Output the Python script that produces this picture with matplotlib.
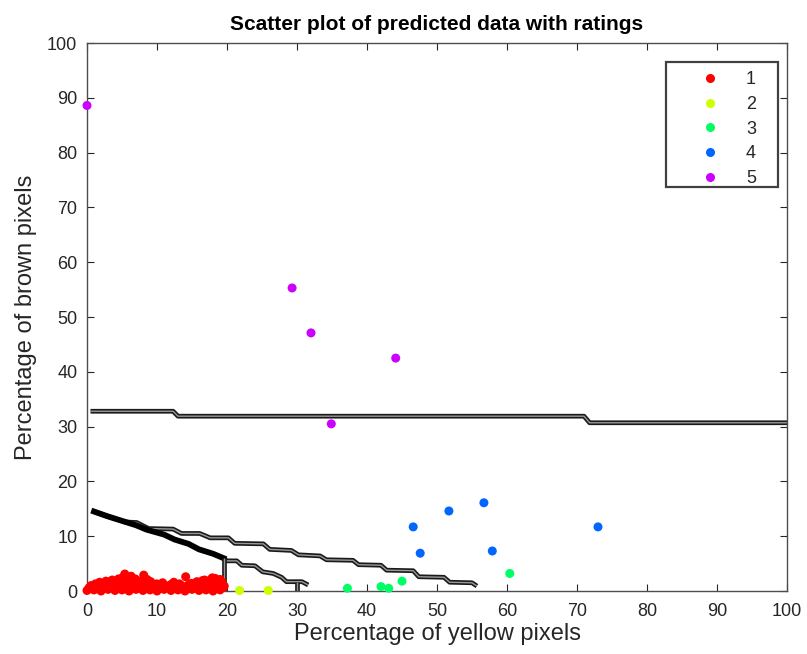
"""
Scatter of predicted ratings with decision boundary contours.
"""
import matplotlib
matplotlib.use("Agg")
import matplotlib.pyplot as plt
from matplotlib.lines import Line2D
from matplotlib.patches import Rectangle

plt.rcParams["font.family"] = ["Liberation Sans", "DejaVu Sans"]

# ---- data -----------------------------------------------------------------
rating_labels = ["1", "2", "3", "4", "5"]
rating_colors = [(1.0, 0.0, 0.0), (0.8, 1.0, 0.0), (0.0, 1.0, 0.4),
                 (0.0, 0.4, 1.0), (0.8, 0.0, 1.0)]

red_x = [0.3, 0.6, 0.9, 1.2, 1.5, 1.8, 2.1, 2.4, 2.7, 3.0,
         3.3, 3.6, 3.9, 4.2, 4.5, 4.8, 5.1, 5.4, 5.7, 6.0,
         6.3, 6.6, 6.9, 7.2, 7.5, 7.8, 8.1, 8.4, 8.8, 9.1,
         9.4, 9.7, 10.0, 10.4, 10.8, 11.2, 11.6, 12.0, 12.4, 12.8,
         13.2, 13.6, 14.1, 14.5, 14.9, 15.3, 15.7, 16.1, 16.5, 16.9,
         17.3, 17.7, 18.1, 18.5, 18.9, 19.3, 19.6,
         0.0, 1.0, 2.0, 3.0, 4.0, 5.0, 6.0, 7.0, 8.0, 9.0,
         10.0, 11.0, 12.0, 13.0, 14.0, 15.0, 16.0, 17.0, 18.0, 19.0,
         0.5, 1.5, 2.5, 3.5, 4.5, 5.5, 6.5, 7.5, 8.5, 9.5,
         10.5, 11.5, 12.5, 13.5, 14.5, 15.5, 16.5, 17.5, 18.5, 19.5,
         4.9, 5.9, 6.2, 7.0, 8.6, 16.8, 18.3, 19.0, 17.9, 3.1]
red_y = [0.6, 1.0, 0.4, 1.3, 0.8, 1.6, 1.1, 0.7, 1.8, 1.4,
         0.9, 2.0, 1.5, 1.2, 2.2, 1.7, 2.5, 3.1, 2.4, 1.9,
         2.7, 1.3, 2.2, 1.6, 1.0, 1.8, 2.9, 1.4, 0.9, 1.7,
         1.1, 0.6, 1.3, 0.8, 1.5, 1.0, 0.7, 1.2, 1.6, 0.9,
         1.3, 0.8, 2.6, 1.1, 1.4, 0.9, 1.7, 1.2, 1.9, 1.0,
         1.5, 2.1, 1.3, 1.8, 1.1, 1.6, 0.9,
         0.1, 0.2, 0.0, 0.3, 0.1, 0.2, 0.0, 0.3, 0.1, 0.2,
         0.0, 0.3, 0.1, 0.2, 0.0, 0.3, 0.1, 0.2, 0.0, 0.2,
         0.7, 0.5, 1.0, 0.6, 0.9, 1.2, 0.8, 1.1, 0.6, 0.9,
         0.5, 0.8, 0.6, 1.0, 0.5, 0.7, 0.9, 0.6, 1.0, 0.7,
         2.0, 2.3, 1.7, 2.0, 2.1, 2.0, 2.3, 2.1, 2.4, 1.6]

yellow_x = [21.8, 25.9]
yellow_y = [0.1, 0.1]

green_x = [37.2, 42.0, 43.1, 45.0, 60.4]
green_y = [0.5, 0.8, 0.5, 1.8, 3.2]

blue_x = [46.6, 47.6, 51.7, 56.7, 57.9, 73.0]
blue_y = [11.7, 6.9, 14.6, 16.1, 7.3, 11.7]

purple_x = [0.0, 29.3, 32.0, 44.1, 34.9]
purple_y = [88.6, 55.3, 47.1, 42.5, 30.5]

# decision boundary contours
top_x = [0.5, 12.3, 13.0, 71.0, 71.8, 100.0]
top_y = [32.8, 32.8, 31.9, 31.9, 30.7, 30.7]

upper_x = [1.0, 5.4, 7.1, 8.8, 12.3, 13.5, 16.1, 17.6, 20.2, 21.1, 25.2, 26.1,
           29.2, 30.2, 33.3, 34.2, 38.0, 38.8, 42.0, 42.8, 46.6, 47.4, 51.0,
           51.8, 55.0, 55.7]
upper_y = [14.5, 12.6, 12.5, 11.4, 11.3, 10.5, 10.5, 9.7, 9.7, 8.7, 8.6, 7.6,
           7.4, 6.6, 6.4, 5.7, 5.6, 4.8, 4.7, 3.8, 3.7, 2.6, 2.5, 1.6, 1.5, 0.9]

steep_x = [1.0, 3.0, 4.5, 7.0, 8.5, 11.0, 12.5, 14.5, 16.0, 18.0, 19.5]
steep_y = [14.5, 13.6, 13.0, 12.0, 11.2, 10.3, 9.4, 8.6, 7.6, 6.8, 6.0]

lower_x = [19.5, 20.0, 21.4, 22.1, 24.0, 25.1, 26.6, 27.8, 28.5, 30.7, 31.6]
lower_y = [6.0, 5.5, 5.5, 4.7, 4.6, 3.5, 3.2, 2.5, 1.7, 1.7, 1.1]

vert_x = [19.6, 29.95]
vert_top = [6.0, 1.7]

# ---- plot -----------------------------------------------------------------
fig = plt.figure(figsize=(8.07, 6.54), dpi=100, facecolor="white")
ax = fig.add_axes([87 / 807, 63 / 654, 700 / 807, 548 / 654])


def double_line(xs, ys):
    ax.plot(xs, ys, color="0.1", lw=3.4, solid_capstyle="butt", zorder=2)
    ax.plot(xs, ys, color="0.6", lw=1.0, solid_capstyle="butt", zorder=2)


double_line(top_x, top_y)
double_line(upper_x, upper_y)
double_line(lower_x, lower_y)
ax.plot(steep_x, steep_y, color="black", lw=4.2, zorder=2)
for vx, vt in zip(vert_x, vert_top):
    double_line([vx, vx], [0, vt])

groups = [(red_x, red_y), (yellow_x, yellow_y), (green_x, green_y),
          (blue_x, blue_y), (purple_x, purple_y)]
for (xs, ys), col in zip(groups, rating_colors):
    ax.scatter(xs, ys, s=42, color=col, edgecolors="none", zorder=3,
               clip_on=False)

ax.set_xlim(0, 100)
ax.set_ylim(0, 100)
ax.set_xticks(range(0, 101, 10))
ax.set_yticks(range(0, 101, 10))
ax.tick_params(direction="in", top=True, right=True, length=5, width=0.8,
               labelsize=13, colors="0.15", pad=7)
ax.tick_params(axis="x", pad=9)
for s in ax.spines.values():
    s.set_color("0.3")
    s.set_linewidth(1.0)

ax.set_title("Scatter plot of predicted data with ratings", fontsize=15,
             fontweight="bold", pad=9)
ax.set_xlabel("Percentage of yellow pixels", fontsize=17, color="0.15",
              labelpad=2)
ax.set_ylabel("Percentage of brown pixels", fontsize=17, color="0.15",
              labelpad=7)

# legend box drawn separately so its padding matches the original
ax.add_patch(Rectangle((0.827, 0.737), 0.160, 0.228, transform=ax.transAxes,
                       facecolor="white", edgecolor="0.25", lw=1.6,
                       zorder=4))
handles = [Line2D([], [], marker="o", ls="none", markersize=6.5,
                  markerfacecolor=c, markeredgecolor="none")
           for c in rating_colors]
leg = ax.legend(handles, rating_labels, loc="upper left",
                bbox_to_anchor=(0.877, 0.948), borderaxespad=0,
                fontsize=13, handlelength=1.0, handletextpad=1.5,
                labelspacing=0.42, borderpad=0, frameon=False)
leg.set_zorder(5)
for t in leg.get_texts():
    t.set_color("0.15")

plt.savefig("out.png", dpi=100, facecolor="white")
